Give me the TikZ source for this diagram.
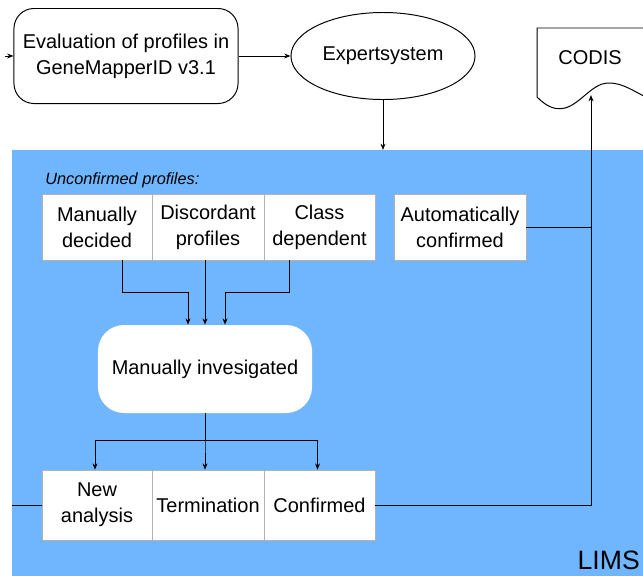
\documentclass[tikz,border=0pt]{standalone}
\usepackage{fontspec}
\setmainfont{Liberation Sans}
\usepackage{tikz}
\usetikzlibrary{positioning,shapes.geometric,arrows.meta}
\definecolor{limsblue}{RGB}{112,182,255}
\newcommand{\boxfont}{\fontsize{14.2}{18.5}\selectfont}

\begin{document}
\begin{tikzpicture}[x=0.025cm,y=-0.025cm,>={Stealth[length=4.5pt,width=3.5pt]},
  cell/.style={draw=gray!60,fill=white,rectangle,align=center,font=\boxfont,inner sep=0pt},
  flowline/.style={line width=0.7pt}]
\useasboundingbox (0,0) rectangle (643,575);
\node[fill=limsblue,rectangle,anchor=north west,minimum width=16cm,minimum height=10.7cm,inner sep=0pt] (lims) at (12,150) {};
\node[anchor=south east,font=\fontsize{18.9}{22}\selectfont,inner sep=0pt] (limslabel) at (640,570) {LIMS};
\node[draw,rectangle,rounded corners=0.5cm,align=center,font=\boxfont,minimum width=5.6cm,minimum height=2.375cm,line width=0.7pt] (eval) at (126,56) {Evaluation of profiles in\\GeneMapperID v3.1};
\node[draw,ellipse,font=\boxfont,minimum width=4.6cm,minimum height=2.175cm,inner sep=0pt,line width=0.7pt] (expert) at (383,56) {Expertsystem};
\draw[line width=0.7pt,fill=white] (537,97) .. controls (548,108) and (556,110) .. (565,108) .. controls (580,104) and (592,84) .. (607,83) .. controls (622,82) and (635,92) .. (655,102) -- (655,28) -- (537,28) -- cycle;
\node[font=\boxfont] (codis) at (590,58) {CODIS};
\coordinate (codisin) at (591,95);
\coordinate (evalstub) at (5,56);
\node[anchor=south west,font=\fontsize{11.6}{14}\itshape,inner sep=0pt] (unconf) at (45,188) {Unconfirmed profiles:};
\node[cell,minimum width=2.75cm,minimum height=1.65cm] (mandec) at (97,227) {Manually\\decided};
\node[cell,minimum width=2.8cm,minimum height=1.65cm] (discord) at (208,227) {Discordant\\profiles};
\node[cell,minimum width=2.775cm,minimum height=1.65cm] (classdep) at (319.5,227) {Class\\dependent};
\node[cell,minimum width=3.3cm,minimum height=1.65cm] (autoconf) at (460,227) {Automatically\\confirmed};
\node[fill=white,rectangle,rounded corners=0.65cm,font=\boxfont,minimum width=5.35cm,minimum height=2.2cm] (maninv) at (205,369) {Manually invesigated};
\node[cell,minimum width=2.75cm,minimum height=1.75cm] (newan) at (97,505) {New\\analysis};
\node[cell,minimum width=2.8cm,minimum height=1.75cm] (term) at (208,505) {Termination};
\node[cell,minimum width=2.775cm,minimum height=1.75cm] (conf) at (319.5,505) {Confirmed};
\draw[->,flowline] (evalstub) -- (eval.west);
\draw[->,flowline] (eval.east) -- (expert.west);
\draw[->,flowline] (expert.south) -- (expert.south |- lims.north);
\draw[->,flowline] ([xshift=0.625cm]mandec.south) -- ++(0,32) -| ([xshift=-0.425cm]maninv.north);
\draw[->,flowline] (discord.south -| maninv.north) -- (maninv.north);
\draw[->,flowline] ([xshift=-0.75cm]classdep.south) -- ++(0,32) -| ([xshift=0.5cm]maninv.north);
\draw[->,flowline] (maninv.south) -- ++(0,27) -| ([xshift=-0.05cm]newan.north);
\draw[->,flowline] (maninv.south) -- ++(0,27) -| (maninv.south |- term.north);
\draw[->,flowline] (maninv.south) -- ++(0,27) -| ([xshift=-0.05cm]conf.north);
\draw[flowline] (newan.west) -- (newan.west -| lims.west);
\draw[->,flowline] (conf.east) -| (codisin);
\draw[flowline] (autoconf.east) -- (autoconf.east -| codisin);
\end{tikzpicture}
\end{document}
